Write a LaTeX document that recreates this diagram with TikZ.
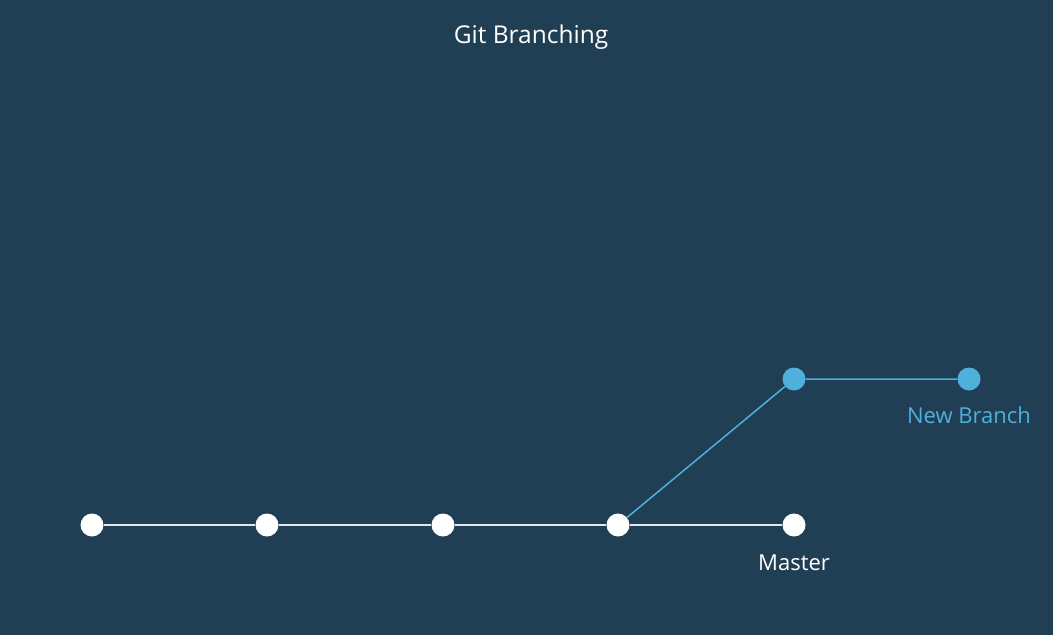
\documentclass[tikz,border=0pt]{standalone}
\usepackage{fontspec}
\setmainfont{Open Sans}
\definecolor{bg}{HTML}{213F54}
\definecolor{blu}{HTML}{4EB0DB}
\definecolor{lin}{HTML}{E2E6EA}
\begin{document}
\begin{tikzpicture}[x=1pt,y=-1pt,
  commit/.style={circle,fill=white,minimum size=23pt,inner sep=0pt},
  bcommit/.style={circle,fill=blu,minimum size=23pt,inner sep=0pt},
  lbl/.style={font=\fontsize{22}{26}\selectfont}]
\fill[bg] (0,0) rectangle (1053,635);
\useasboundingbox (0,0) rectangle (1053,635);
\node[text=white,font=\fontsize{24.5}{28}\selectfont] (title) at (531,37) {Git Branching};
\node[commit] (c1) at (92,525) {};
\node[commit] (c2) at (267,525) {};
\node[commit] (c3) at (443,525) {};
\node[commit] (c4) at (618,525) {};
\node[commit] (c5) at (794,525) {};
\node[bcommit] (b1) at (794,379) {};
\node[bcommit] (b2) at (969,379) {};
\draw[lin,line width=1.5pt] (c1) -- (c2) -- (c3) -- (c4) -- (c5);
\draw[blu,line width=1.5pt] (c4) -- (b1) -- (b2);
\node[lbl,text=white] (m) at (794,563) {Master};
\node[lbl,text=blu] (nb) at (969,415) {New Branch};
\end{tikzpicture}
\end{document}
